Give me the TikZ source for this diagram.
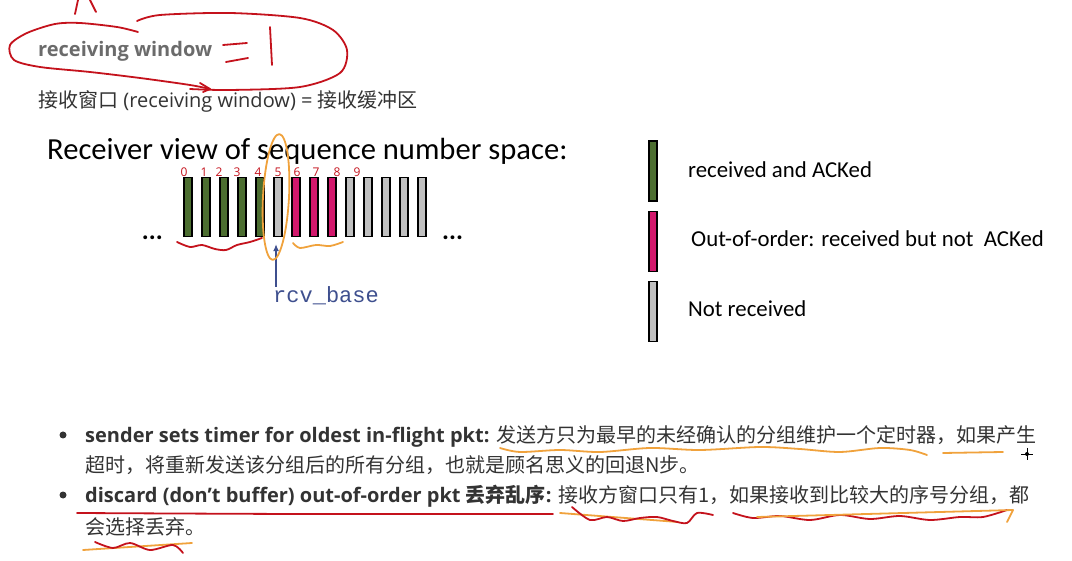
\documentclass[tikz,border=0pt]{standalone}
\usepackage{fontspec}
\setmainfont{Open Sans}
\newfontfamily\cjk{Noto Sans CJK SC}
\newfontfamily\calibri{Carlito}
\newfontfamily\courierfont{Liberation Mono}
\usetikzlibrary{positioning, calc, arrows.meta}

\definecolor{ackgreen}{HTML}{4C6E30}
\definecolor{ooopink}{HTML}{D2186C}
\definecolor{notgray}{HTML}{C0C0C0}
\definecolor{penred}{HTML}{C4121C}
\definecolor{penorange}{HTML}{F0A23C}
\definecolor{baseblue}{HTML}{3E4F8E}
\definecolor{headgray}{HTML}{6B6B6B}
\definecolor{bodygray}{HTML}{333333}

\newcommand{\zh}[1]{{\cjk #1}}

\begin{document}
\begin{tikzpicture}[x=1pt, y=-1pt,
  seqbar/.style={draw=black, line width=1.4pt, minimum width=8pt,
                 minimum height=59pt, inner sep=0pt},
  legbar/.style={draw=black, line width=1.4pt, minimum width=8pt,
                 minimum height=60pt, inner sep=0pt},
  legtext/.style={anchor=base west, inner sep=0pt,
                  font=\calibri\fontsize{22.8}{26}\selectfont},
  body/.style={anchor=base west, inner sep=0pt, text=bodygray,
               font=\fontsize{20}{24}\selectfont},
  bullet/.style={circle, fill=bodygray, inner sep=0pt, minimum size=7pt},
  pen/.style={penred, line width=1.8pt, line cap=round, line join=round},
  marker/.style={penorange, line width=1.8pt, line cap=round, line join=round},
  arr/.style={-{Latex[length=7pt, width=6pt]}, baseblue, line width=1.2pt}
]
\useasboundingbox (0,0) rectangle (1072,561);

% headings
\node[anchor=base west, inner sep=0pt, text=headgray,
      font=\bfseries\fontsize{20}{24}\selectfont] (head) at (38,57) {receiving window};
\node[body] (sub) at (38,108)
  {\zh{接收窗口} (receiving window) = \zh{接收缓冲区}};
\node[anchor=base west, inner sep=0pt, font=\calibri\fontsize{30.6}{34}\selectfont]
  (title) at (47,160) {Receiver view of sequence number space:};

% sequence number space
\foreach \i/\c in {0/ackgreen,1/ackgreen,2/ackgreen,3/ackgreen,4/ackgreen,
                   5/notgray,6/ooopink,7/ooopink,8/ooopink,9/notgray,
                   10/notgray,11/notgray,12/notgray,13/notgray}
  \node[seqbar, fill=\c] (b\i) at (188+18*\i,207) {};
\node[anchor=base east, inner sep=0pt, font=\calibri\bfseries\fontsize{26}{30}\selectfont]
  (ldots) at (163,240) {...};
\node[anchor=base west, inner sep=0pt, font=\calibri\bfseries\fontsize{26}{30}\selectfont]
  (rdots) at (442,240) {...};

\node[anchor=base west, inner sep=0pt, text=baseblue,
      font=\courierfont\fontsize{22}{26}\selectfont] (rcv) at (273,303) {rcv\_base};
\coordinate (tip) at ([yshift=-7pt]b5.south);
\draw[arr] ([xshift=3pt]rcv.north west) -- ([xshift=3pt]rcv.north west |- tip);

% legend
\node[legbar, fill=ackgreen] (lg1) at (653,171) {};
\node[legbar, fill=ooopink, below=9pt of lg1] (lg2) {};
\node[legbar, fill=notgray, below=9pt of lg2] (lg3) {};
\node[legtext] (lt1) at (688,178) {received and ACKed};
\node[legtext] (lt2) at (691,247) {Out-of-order: received but not\ \ ACKed};
\node[legtext] (lt3) at (688,317) {Not received};

% bullets
\node[bullet] (dot1) at (63,435) {};
\node[bullet] (dot2) at (63,495) {};
\node[body] (l1) at (85,443)
  {\textbf{sender sets timer for oldest in-flight pkt:} \zh{发送方只为最早的未经确认的分组维护一个定时器，如果产生}};
\node[body] (l2) at (85,472)
  {\zh{超时，将重新发送该分组后的所有分组，也就是顾名思义的回退N步。}};
\node[body] (l3) at (85,502)
  {\textbf{discard (don’t buffer) out-of-order pkt \zh{丢弃乱序}:} \zh{接收方窗口只有1，如果接收到比较大的序号分组，都}};
\node[body] (l4) at (85,534) {\zh{会选择丢弃。}};

% handwritten marks
\foreach \d/\x in {0/184,1/204,2/219,3/237,4/258,5/278,6/297,7/316,8/337,9/357}
  \node[text=penred, inner sep=0pt, font=\fontsize{12}{13}\selectfont] (d\d) at (\x,172) {\d};
\draw[pen] plot[smooth] coordinates {(138,32) (117,27) (80,23) (55,24) (27,33) (10,45)
  (14,60) (40,67) (90,72) (140,78) (190,85) (210,89)};
\draw[pen] plot[smooth] coordinates {(137,21) (160,15) (230,13) (300,18) (333,30)
  (347,50) (340,73) (300,87) (230,90) (190,89)};
\draw[pen] (200,83) -- (210,89) -- (203,92);
\draw[pen] (75,14) -- (78,0);
\draw[pen] (90,0) -- (96,12);
\draw[pen] (223,45) -- (247,43);
\draw[pen] (226,62) -- (248,58);
\draw[pen] (270,27) -- (272,65);
\draw[marker, rotate around={-3:(276,197)}] (276,197) ellipse [x radius=13, y radius=63];
\draw[pen] plot[smooth] coordinates {(177,242) (190,247) (202,245) (215,249) (226,250)
  (237,245) (250,242) (262,238)};
\draw[marker] plot[smooth] coordinates {(293,243) (300,248) (316,245) (330,246) (343,242)};
\draw[marker] plot[smooth] coordinates {(500,448) (520,452) (560,450) (600,452) (650,448)
  (700,450) (760,447) (800,449) (840,452) (880,448) (910,450) (927,455)};
\draw[marker] (943,453) -- (1003,452);
\draw[pen] plot[smooth] coordinates {(77,513) (300,514) (553,514)};
\draw[marker] (560,513) -- (678,522);
\draw[pen] plot[smooth] coordinates {(572,507) (590,520) (607,517) (623,521) (640,518)
  (657,517) (673,521) (687,523) (697,513) (713,515)};
\draw[pen] plot[smooth] coordinates {(733,513) (753,518) (780,516) (810,520) (840,515)
  (870,519) (900,516) (930,520) (960,517) (983,517) (1007,510)};
\draw[marker] (757,517) -- (1013,510) -- (1007,522);
\draw[marker] (83,550) -- (192,543);
\draw[pen] plot[smooth] coordinates {(95,542) (113,548) (130,543) (150,550) (173,545) (183,553)};
% cursor
\draw[black, line width=0.8pt] (1021,454) -- (1033,454) (1027,448) -- (1027,460);
\fill[black] (1027,454) circle[radius=2];
\end{tikzpicture}
\end{document}
